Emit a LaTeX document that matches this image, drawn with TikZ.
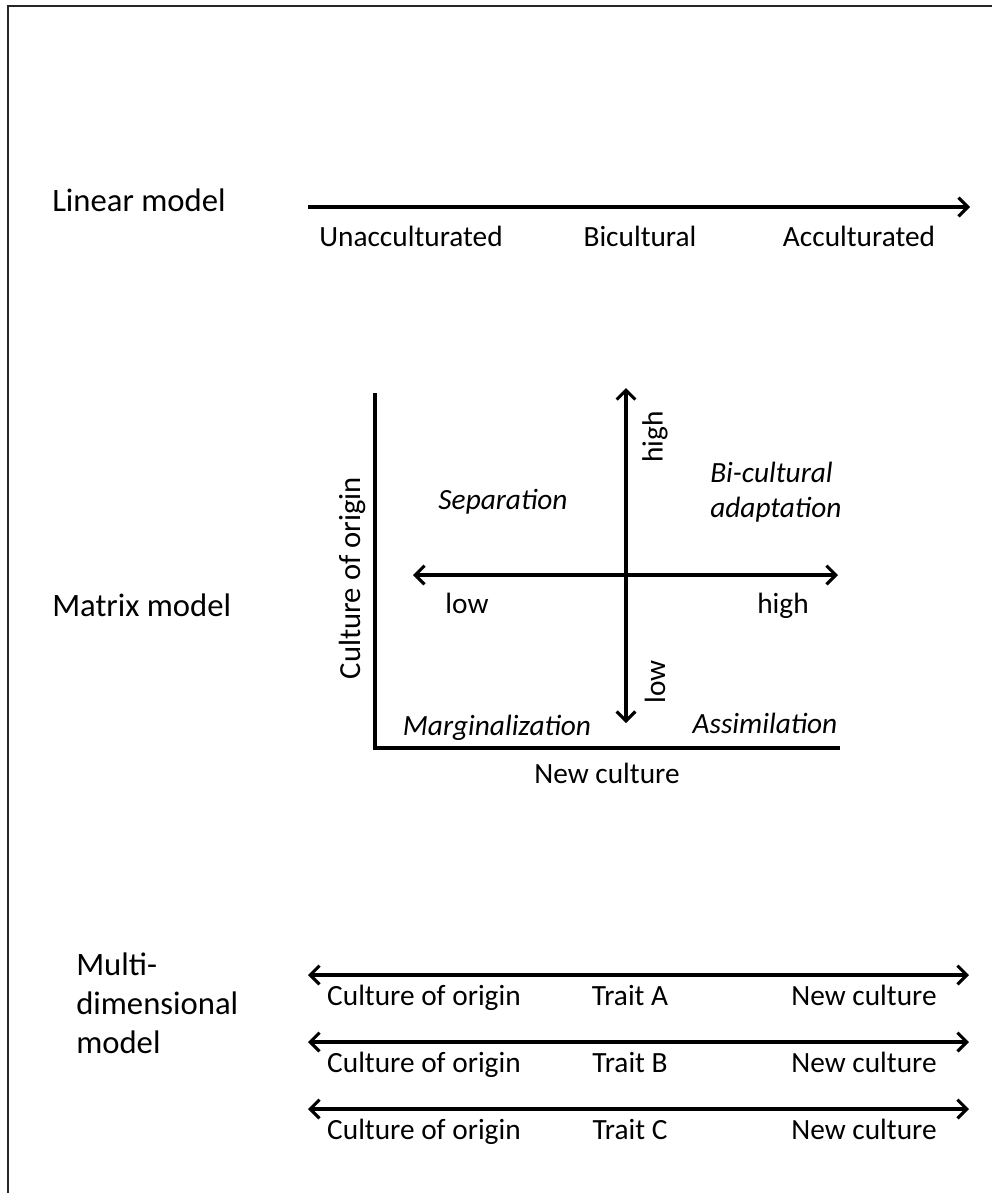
\documentclass[tikz,border=0pt]{standalone}
\usepackage{fontspec}
\setmainfont{Carlito}
\usetikzlibrary{arrows.meta}
\tikzset{
  txt/.style={inner sep=0pt, font=\fontsize{22}{29}\selectfont},
  big/.style={inner sep=0pt, font=\fontsize{24.5}{30}\selectfont, anchor=base west},
  itxt/.style={txt, font=\fontsize{22}{29}\selectfont\itshape},
  arr/.style={line width=2.3pt, -{Straight Barb[length=7pt,width=14pt,line width=2.3pt]}},
  darr/.style={line width=2.3pt, {Straight Barb[length=7pt,width=14pt,line width=2.3pt]}-{Straight Barb[length=7pt,width=14pt,line width=2.3pt]}},
  axis/.style={line width=2.3pt},
  frame/.style={line width=1.8pt, black!85}
}
\begin{document}
\begin{tikzpicture}[x=0.75pt,y=-0.75pt]
\useasboundingbox (0,0) rectangle (992,1193);
% frame (top and left only)
\coordinate (ftl) at (8,6);
\coordinate (ftr) at (992,6);
\coordinate (fbl) at (8,1193);
\draw[frame] (ftr) -- (ftl) -- (fbl);

% Linear model
\node[big] (linlab) at (52,211) {Linear model};
\coordinate (ls) at (308,207);
\coordinate (le) at (970,207);
\draw[arr] (ls) -- (le);
\node[txt, anchor=base] (unacc) at (411,246) {Unacculturated};
\node[txt, anchor=base] (bicult) at (640,246) {Bicultural};
\node[txt, anchor=base] (acc) at (859,246) {Acculturated};

% Matrix model
\node[big] (matlab) at (52,616) {Matrix model};
\coordinate (corner) at (375,748);
\coordinate (ytop) at (375,393);
\coordinate (xright) at (840,748);
\draw[axis] (ytop) -- (corner) -- (xright);
\coordinate (vb) at (626,723);
\coordinate (vt) at (626,388);
\coordinate (hl) at (413,575);
\coordinate (hr) at (838,575);
\draw[darr] (vb) -- (vt);
\draw[darr] (hl) -- (hr);
\node[txt, rotate=90] (vhigh) at (655,437) {high};
\node[txt, rotate=90] (vlow) at (655,682) {low};
\node[itxt, anchor=base] (sep) at (503,509) {Separation};
\node[itxt, anchor=base west] (bic1) at (710,482) {Bi-cultural};
\node[itxt, anchor=base west] (bic2) at (710,517) {adaptation};
\node[txt, anchor=base] (hlow) at (467,613) {low};
\node[txt, anchor=base] (hhigh) at (783,613) {high};
\node[itxt, anchor=base] (marg) at (497,735) {Marginalization};
\node[itxt, anchor=base] (assim) at (765,733) {Assimilation};
\node[txt, anchor=base] (newc) at (607,783) {New culture};
\node[txt, rotate=90, font=\fontsize{23}{29}\selectfont] (origin) at (352,578) {Culture of origin};

% Multi-dimensional model
\node[big] (mult1) at (76,975) {Multi-};
\node[big] (mult2) at (76,1014) {dimensional};
\node[big] (mult3) at (76,1053) {model};
\foreach \y/\t [count=\i] in {975/A,1042/B,1109/C}{
  \coordinate (m\i l) at (308,\y);
  \coordinate (m\i r) at (969,\y);
  \draw[darr] (m\i l) -- (m\i r);
  \node[txt, anchor=base] (co\i) at (424,\y+30) {Culture of origin};
  \node[txt, anchor=base] (tr\i) at (630,\y+30) {Trait \t};
  \node[txt, anchor=base] (nc\i) at (864,\y+30) {New culture};
}
\end{tikzpicture}
\end{document}
